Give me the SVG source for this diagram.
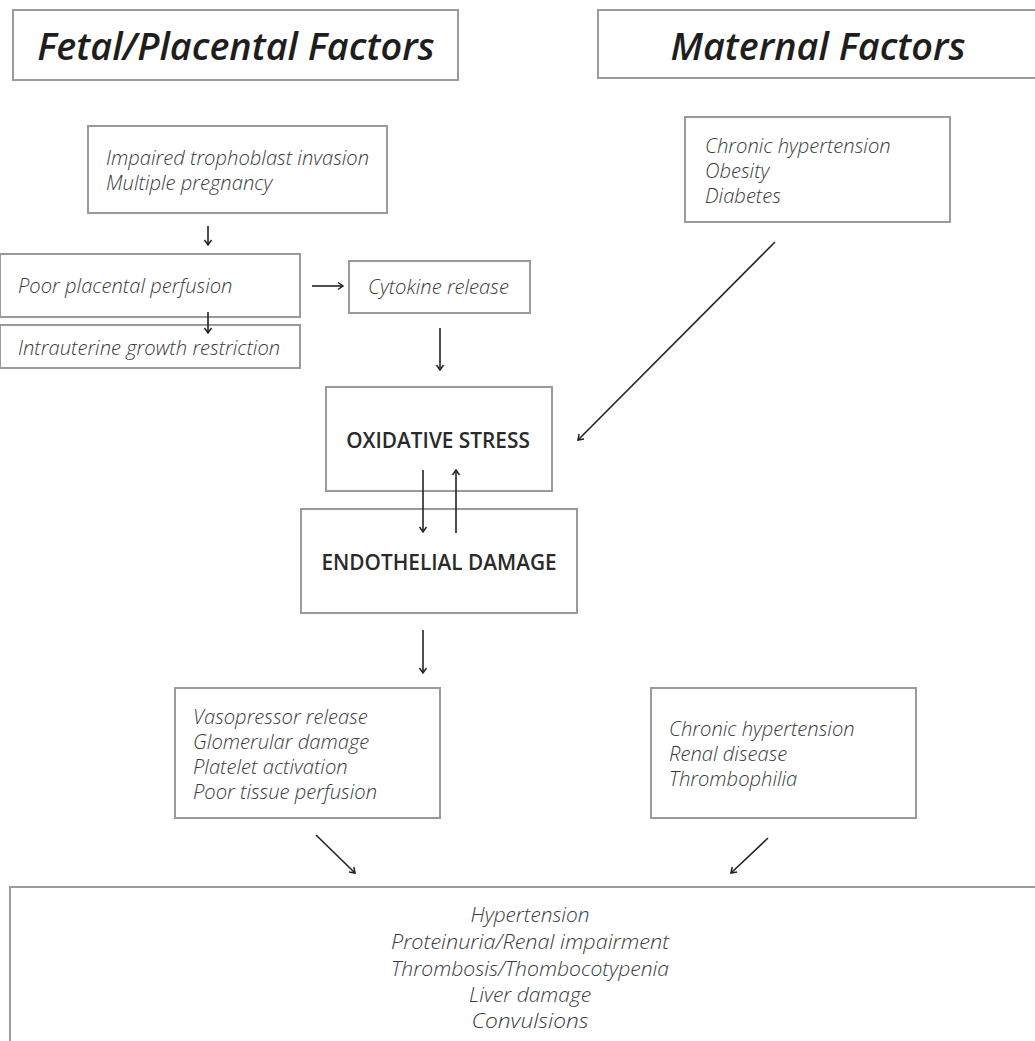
<svg xmlns="http://www.w3.org/2000/svg" width="1035" height="1041" viewBox="0 0 1035 1041">
<defs>
<marker id="ah" markerWidth="10" markerHeight="10" refX="8" refY="5" orient="auto" markerUnits="userSpaceOnUse">
<path d="M3,1.5 L8,5 L3,8.5" fill="none" stroke="#222" stroke-width="1.5"/>
</marker>
<style>
.box{fill:#fff;stroke:#9a9a9a;stroke-width:2}
.hd{font-family:"Open Sans","Liberation Sans",sans-serif;font-style:italic;font-weight:600;font-size:37.8px;fill:#1e1e1e}
.it{font-family:"Open Sans","Liberation Sans",sans-serif;font-style:italic;font-weight:300;font-size:20.2px;fill:#3a3a3a}
.cap{font-family:"Open Sans","Liberation Sans",sans-serif;font-weight:600;font-size:20.8px;fill:#2a2a2a;text-anchor:middle}
.cn{font-family:"Open Sans","Liberation Sans",sans-serif;font-style:italic;font-weight:300;font-size:21px;fill:#3a3a3a;text-anchor:middle}
.ar{stroke:#222;stroke-width:1.6;fill:none;marker-end:url(#ah)}
</style>
</defs>
<rect width="1035" height="1041" fill="#fff"/>
<g id="hdr-fetal"><rect class="box" x="13" y="10" width="445" height="70"/><text class="hd" x="236" y="60" text-anchor="middle">Fetal/Placental Factors</text></g>
<g id="hdr-maternal"><rect class="box" x="598" y="10" width="450" height="68"/><text class="hd" x="818" y="60" text-anchor="middle">Maternal Factors</text></g>
<g id="n-impaired"><rect class="box" x="88" y="126" width="299" height="87"/><text class="it" x="106" y="165">Impaired trophoblast invasion</text><text class="it" x="106" y="190">Multiple pregnancy</text></g>
<g id="n-poor"><rect class="box" x="0" y="254" width="300" height="63"/><text class="it" x="18" y="293">Poor placental perfusion</text></g>
<g id="n-iugr"><rect class="box" x="0" y="325" width="300" height="43"/><text class="it" x="18" y="355">Intrauterine growth restriction</text></g>
<g id="n-cytokine"><rect class="box" x="349" y="261" width="181" height="52"/><text class="it" x="368" y="294">Cytokine release</text></g>
<g id="n-oxid"><rect class="box" x="326" y="387" width="226" height="104"/><text class="cap" x="438" y="448">OXIDATIVE STRESS</text></g>
<g id="n-endo"><rect class="box" x="301" y="509" width="276" height="104"/><text class="cap" x="439" y="570">ENDOTHELIAL DAMAGE</text></g>
<g id="n-maternal1"><rect class="box" x="685" y="117" width="265" height="105"/><text class="it" x="705" y="153">Chronic hypertension</text><text class="it" x="705" y="178">Obesity</text><text class="it" x="705" y="203">Diabetes</text></g>
<g id="n-vaso"><rect class="box" x="175" y="688" width="265" height="130"/><text class="it" x="193" y="724">Vasopressor release</text><text class="it" x="193" y="749">Glomerular damage</text><text class="it" x="193" y="774">Platelet activation</text><text class="it" x="193" y="799">Poor tissue perfusion</text></g>
<g id="n-maternal2"><rect class="box" x="651" y="688" width="265" height="130"/><text class="it" x="669" y="736">Chronic hypertension</text><text class="it" x="669" y="761">Renal disease</text><text class="it" x="669" y="786">Thrombophilia</text></g>
<g id="n-outcome"><rect class="box" x="10" y="887" width="1040" height="170"/>
<text class="cn" x="530" y="922" textLength="119" lengthAdjust="spacingAndGlyphs">Hypertension</text>
<text class="cn" x="530" y="949" textLength="278" lengthAdjust="spacingAndGlyphs">Proteinuria/Renal impairment</text>
<text class="cn" x="530" y="976" textLength="278" lengthAdjust="spacingAndGlyphs">Thrombosis/Thombocotypenia</text>
<text class="cn" x="530" y="1002" textLength="122" lengthAdjust="spacingAndGlyphs">Liver damage</text>
<text class="cn" x="530" y="1028" textLength="117" lengthAdjust="spacingAndGlyphs">Convulsions</text>
</g>
<g id="connectors">
<line class="ar" x1="208" y1="226" x2="208" y2="245"/>
<line class="ar" x1="208" y1="312" x2="208" y2="333"/>
<line class="ar" x1="312" y1="286" x2="343" y2="286"/>
<line class="ar" x1="440" y1="328" x2="440" y2="370"/>
<line class="ar" x1="775" y1="242" x2="578" y2="440"/>
<line class="ar" x1="423" y1="470" x2="423" y2="532"/>
<line class="ar" x1="456" y1="533" x2="456" y2="470"/>
<line class="ar" x1="423" y1="630" x2="423" y2="673"/>
<line class="ar" x1="316" y1="835" x2="355" y2="873"/>
<line class="ar" x1="768" y1="838" x2="731" y2="873"/>
</g>
</svg>
